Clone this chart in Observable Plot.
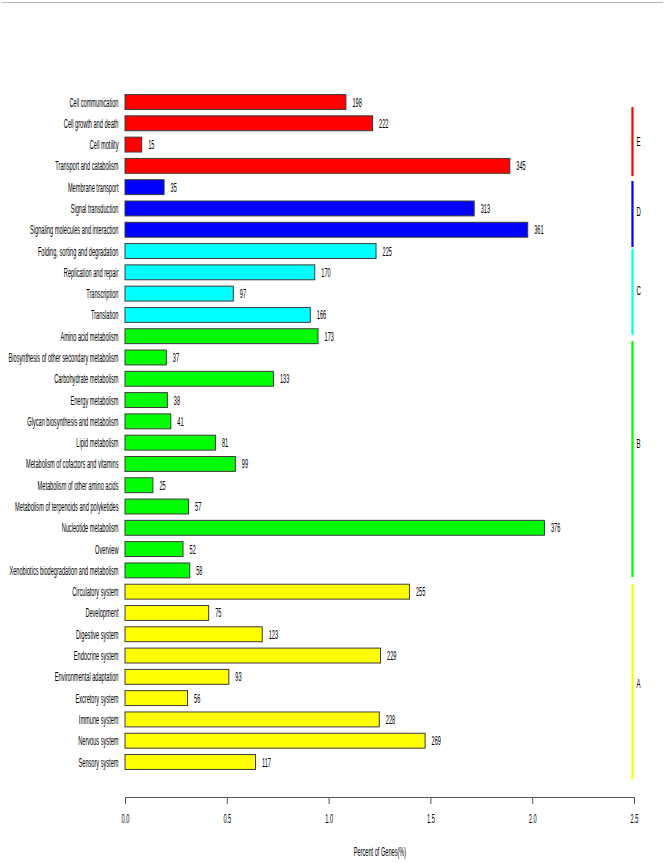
<!DOCTYPE html>
<html>
<head>
<meta charset="utf-8">
<script src="https://cdn.jsdelivr.net/npm/d3@7"></script>
<script src="https://cdn.jsdelivr.net/npm/@observablehq/plot@0.6"></script>
<style>
  html, body { margin: 0; padding: 0; background: #fff; }
  #wrap { position: relative; width: 665px; height: 863px; }
  #topline { position: absolute; left: 2px; right: 2px; top: 2px; height: 0; border-top: 1px solid #b5b5b5; }
</style>
</head>
<body>
<div id="wrap"><div id="topline"></div><div id="chart"></div></div>
<script>
// ---- data ----
const categories = [
  "Cell communication", "Cell growth and death", "Cell motility", "Transport and catabolism",
  "Membrane transport", "Signal transduction", "Signaling molecules and interaction",
  "Folding, sorting and degradation", "Replication and repair", "Transcription", "Translation",
  "Amino acid metabolism", "Biosynthesis of other secondary metabolism", "Carbohydrate metabolism",
  "Energy metabolism", "Glycan biosynthesis and metabolism", "Lipid metabolism",
  "Metabolism of cofactors and vitamins", "Metabolism of other amino acids",
  "Metabolism of terpenoids and polyketides", "Nucleotide metabolism", "Overview",
  "Xenobiotics biodegradation and metabolism",
  "Circulatory system", "Development", "Digestive system", "Endocrine system",
  "Environmental adaptation", "Excretory system", "Immune system", "Nervous system", "Sensory system"
];
const groupOf = [
  "E","E","E","E",
  "D","D","D",
  "C","C","C","C",
  "B","B","B","B","B","B","B","B","B","B","B","B",
  "A","A","A","A","A","A","A","A","A"
];
const percentGenes = [
  1.085, 1.216, 0.082, 1.890,
  0.192, 1.715, 1.978,
  1.233, 0.932, 0.532, 0.910,
  0.948, 0.203, 0.729, 0.208, 0.225, 0.444, 0.542, 0.137, 0.312, 2.060, 0.285, 0.318,
  1.397, 0.411, 0.674, 1.255, 0.510, 0.307, 1.249, 1.474, 0.641
];
const geneCounts = [
  198, 222, 15, 345,
  35, 313, 361,
  225, 170, 97, 166,
  173, 37, 133, 38, 41, 81, 99, 25, 57, 376, 52, 58,
  255, 75, 123, 229, 93, 56, 228, 269, 117
];
const groupNames = ["E", "D", "C", "B", "A"];
const groupColors = ["#ff0000", "#0000ff", "#00ffff", "#00ff00", "#ffff00"];
// extent of the group bracket lines (in category-row units) and letter position
const groupStart = [0.24, 3.71, 6.90, 11.23, 22.64];
const groupEnd   = [3.48, 6.81, 10.94, 22.31, 31.80];
const groupLabelAt = [1.86, 5.15, 8.83, 16.02, 27.30];
const xTicks = [0, 0.5, 1.0, 1.5, 2.0, 2.5];
const xLabel = "Percent of Genes(%)";

// ---- tables ----
const rows = categories.map((c, i) => ({i, cat: c, group: groupOf[i], pct: percentGenes[i], n: geneCounts[i]}));
const groups = groupNames.map((g, k) => ({g, y1: groupStart[k], y2: groupEnd[k], ym: groupLabelAt[k]}));

const FONT = "'Liberation Sans Narrow', 'Liberation Sans', Arial, sans-serif";
const FS = 12.5;
// compress text horizontally like the reference (measure the font actually used)
const cv = document.createElement("canvas").getContext("2d");
cv.font = `${FS}px ${FONT}`;
const squeeze = 110 / cv.measureText("Biosynthesis of other secondary metabolism").width;

const chart = Plot.plot({
  width: 665,
  height: 863,
  marginLeft: 125,
  marginRight: 31,
  marginTop: 80,
  marginBottom: 66,
  x: {domain: [0, 2.5]},
  y: {domain: [0, categories.length - 1], range: [102, 762], axis: null},
  color: {domain: groupNames, range: groupColors},
  style: {fontFamily: FONT, fontSize: FS + "px", background: "white", color: "#000"},
  marks: [
    Plot.rectX(rows, {x1: 0, x2: "pct", y1: d => d.i - 0.35, y2: d => d.i + 0.35, fill: "group", stroke: "#3a3a3a", strokeWidth: 1}),
    Plot.text(rows, {x: "pct", y: "i", text: "n", textAnchor: "start", dx: 6, fontSize: FS, fill: "#000"}),
    Plot.text(rows, {x: 0, y: "i", text: "cat", textAnchor: "end", dx: -7, fontSize: FS, fill: "#000"}),
    Plot.ruleX(groups, {x: 2.49, y1: "y1", y2: "y2", stroke: "g", strokeWidth: 2.2}),
    Plot.text(groups, {x: 2.49, y: "ym", text: "g", textAnchor: "start", dx: 4, fontSize: FS + 1, fill: "#000"}),
    Plot.frame({anchor: "bottom", stroke: "#555"}),
    Plot.axisX({ticks: xTicks, tickFormat: d3.format(".1f"), tickSize: 7, tickPadding: 10, label: null, stroke: "#555", fontSize: FS, fill: "#000"}),
    Plot.text([xLabel], {frameAnchor: "bottom", dy: 58, fontSize: FS, fill: "#000"})
  ]
});

// apply horizontal squeeze to every text about its own anchor
chart.querySelectorAll("text").forEach(t => {
  const tr = t.getAttribute("transform");
  if (tr) {
    t.setAttribute("transform", tr + ` scale(${squeeze},1)`);
  } else {
    const x = +(t.getAttribute("x") || 0), y = +(t.getAttribute("y") || 0);
    t.removeAttribute("x"); t.removeAttribute("y");
    t.setAttribute("transform", `translate(${x},${y}) scale(${squeeze},1)`);
  }
});

document.getElementById("chart").appendChild(chart);
</script>
</body>
</html>
